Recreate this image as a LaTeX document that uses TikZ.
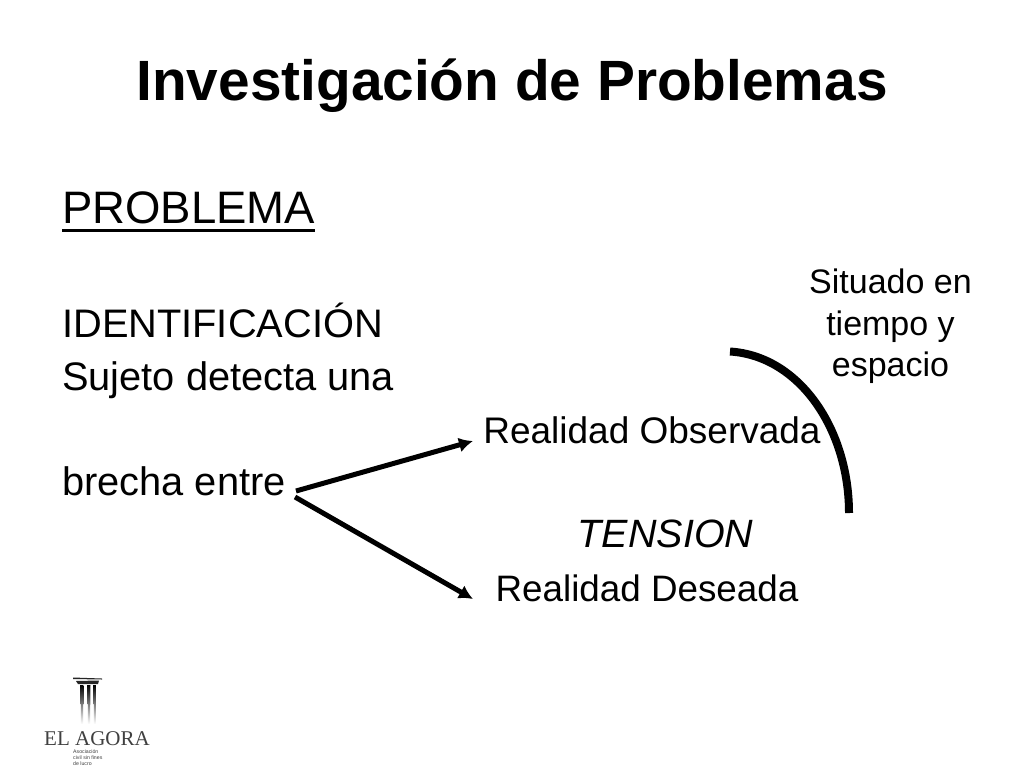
\documentclass[tikz,border=0pt]{standalone}
\usepackage{fontspec}
\setmainfont{Liberation Sans}
\newfontfamily\logofont{Liberation Serif}
\newcommand{\fs}[1]{\fontsize{#1}{#1}\selectfont}
\usetikzlibrary{arrows.meta}
\tikzset{x=1pt,y=-1pt,
 lbl/.style={inner sep=0pt,anchor=base west,text=black},
 lblc/.style={inner sep=0pt,anchor=base,text=black},
 conn/.style={line width=5pt,-{Latex[length=14pt,width=15pt]}},
 logotxt/.style={inner sep=0pt,anchor=base west,text=black!75}}
\begin{document}
\begin{tikzpicture}
\useasboundingbox[fill=white] (0,0) rectangle (1024,768);
\node[lblc] (title) at (512,100) {\fs{56.8}\bfseries Investigación de Problemas};
\node[lbl] (prob) at (62,223.5) {\fs{45.5}PROBLEMA};
\draw[line width=2.4pt] (62,230.5) -- (315,230.5);
\node[lbl] (iden) at (62,337) {\fs{39.8}IDENTIFICACIÓN};
\node[lbl] (suj) at (62,390) {\fs{39.8}Sujeto detecta una};
\node[lbl] (bre) at (62,495) {\fs{39.8}brecha entre};
\node[lblc] (obs) at (652,443.5) {\fs{37}Realidad Observada};
\node[lblc] (ten) at (665.5,547) {\fs{39.5}\itshape TENSION};
\node[lblc] (des) at (647,601) {\fs{36.8}Realidad Deseada};
\node[lblc] (s1) at (890.5,293) {\fs{34}Situado en};
\node[lblc] (s2) at (890.5,335) {\fs{34}tiempo y};
\node[lblc] (s3) at (890.5,376) {\fs{34}espacio};
\coordinate (a0) at (296,491);
\coordinate (a1) at (473,441);
\coordinate (b0) at (295,497);
\coordinate (b1) at (473,599);
\draw[conn] (a0) -- (a1);
\draw[conn] (b0) -- (b1);
\coordinate (c0) at (730,351.5);
\coordinate (c1) at (849,513);
\draw[line width=8pt] (c0) .. controls (800,356) and (849,430) .. (c1);
% logo
\fill[black!85] (73,677.5) -- (102,678.5) -- (102,679.5) -- (73,679) -- cycle;
\fill[black!85] (76,681) -- (99,680.5) -- (98,684) -- (78,684) -- cycle;
\foreach \cx in {82,89,95}{
 \shade[top color=black,bottom color=white] (\cx-1.5,685) -- (\cx+1.5,685) -- (\cx+1,724) -- (\cx-1,724) -- cycle;
}
\node[logotxt] (lg) at (44,745) {\fs{21}\logofont EL AGORA};
\node[logotxt] (l1) at (73,753) {\fs{5.2}Asociación};
\node[logotxt] (l2) at (73,759) {\fs{5.2}civil sin fines};
\node[logotxt] (l3) at (73,765) {\fs{5.2}de lucro};
\end{tikzpicture}
\end{document}
